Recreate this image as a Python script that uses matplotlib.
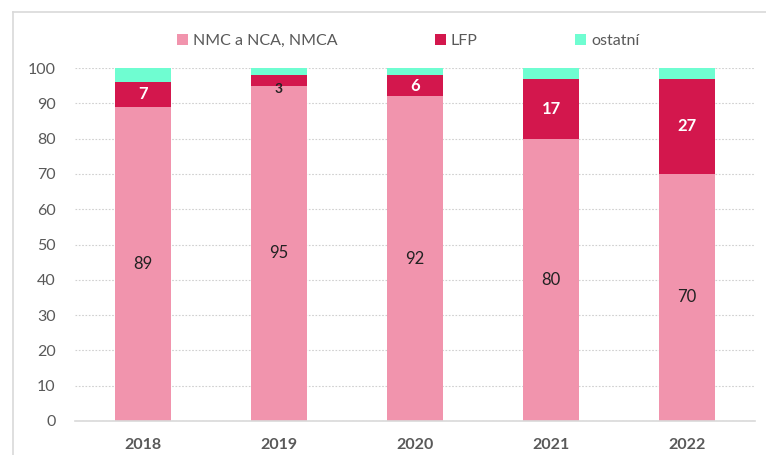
import numpy as np
import matplotlib.pyplot as plt
from matplotlib.lines import Line2D

years = ['2018', '2019', '2020', '2021', '2022']
nmc = [89, 95, 92, 80, 70]
lfp = [7, 3, 6, 17, 27]
ostatni = [4, 2, 2, 3, 3]
series_names = ['NMC a NCA, NMCA', 'LFP', 'ostatní']

c_nmc = '#F194AD'
c_lfp = '#D3174D'
c_ost = '#6FFDD1'

plt.rcParams['font.family'] = ['Lato', 'DejaVu Sans']

fig = plt.figure(figsize=(7.66, 4.55), dpi=100)
ax = fig.add_axes([75 / 766, 1 - 421 / 455, 680 / 766, 353 / 455])

x = np.arange(len(years))
w = 0.405
nmc = np.array(nmc)
lfp = np.array(lfp)
ostatni = np.array(ostatni)

ax.bar(x, nmc, w, color=c_nmc, label=series_names[0], zorder=2)
ax.bar(x, lfp, w, bottom=nmc, color=c_lfp, label=series_names[1], zorder=2)
ax.bar(x, ostatni, w, bottom=nmc + lfp, color=c_ost, label=series_names[2], zorder=2)

for i in range(len(years)):
    ax.text(x[i], nmc[i] / 2, str(nmc[i]), ha='center', va='center',
            fontsize=12, color='#222222', zorder=3)
    if lfp[i] < 5:
        # too small for white text, Excel drops it a bit lower in black
        ax.text(x[i], nmc[i] + lfp[i] / 2 - 2.5, str(lfp[i]), ha='center', va='center',
                fontsize=10, fontweight='bold', color='#222222', zorder=3)
    else:
        ax.text(x[i], nmc[i] + lfp[i] / 2, str(lfp[i]), ha='center', va='center',
                fontsize=12, fontweight='bold', color='white', zorder=3)

ax.set_xlim(-0.5, 4.5)
ax.set_ylim(0, 100)
ax.set_yticks(np.arange(0, 101, 10))
ax.set_xticks(x)
ax.set_xticklabels(years, fontweight='bold')
ax.tick_params(axis='both', length=0, labelsize=11.5, colors='#595959')
ax.tick_params(axis='x', pad=12)
ax.tick_params(axis='y', pad=14)
ax.yaxis.grid(True, linestyle=(0, (1.5, 1.5)), color='#D0D0D0', linewidth=0.8, zorder=0)
for s in ['top', 'right', 'left']:
    ax.spines[s].set_visible(False)
ax.spines['bottom'].set_color('#D9D9D9')
ax.spines['bottom'].set_linewidth(1.2)

# outer chart frame (left and top edges visible)
fig.add_artist(Line2D([13 / 766, 1.0], [1 - 12 / 455, 1 - 12 / 455],
                      color='#D9D9D9', linewidth=1.2, transform=fig.transFigure))
fig.add_artist(Line2D([13 / 766, 13 / 766], [0.0, 1 - 12 / 455],
                      color='#D9D9D9', linewidth=1.2, transform=fig.transFigure))

leg = fig.legend(loc='center', bbox_to_anchor=(408 / 766, 1 - 41 / 455), ncol=3,
                 frameon=False, fontsize=11.5, handlelength=0.7, handleheight=0.7,
                 handletextpad=0.3, columnspacing=6.1)
for t in leg.get_texts():
    t.set_color('#595959')

fig.savefig('out.png', dpi=100)
